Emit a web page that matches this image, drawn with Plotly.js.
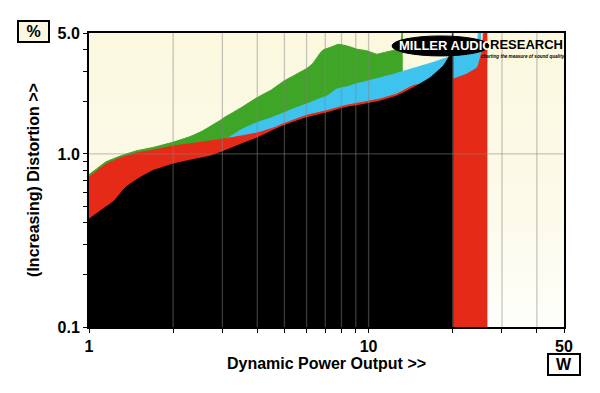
<!DOCTYPE html>
<html><head><meta charset="utf-8">
<script src="https://cdn.plot.ly/plotly-3.0.1.min.js"></script>
<style>
html,body{margin:0;padding:0;background:#fff;}
#wrap{position:relative;width:600px;height:393px;}
#bg{position:absolute;left:89px;top:33px;width:475px;height:294px;background:linear-gradient(to bottom,#fbf8df 0%,#fcfae9 60%,#fefefb 100%);}
#chart{position:absolute;left:0;top:0;width:600px;height:393px;}
</style></head>
<body><div id="wrap"><div id="bg"></div><div id="chart"></div></div>
<script>
// Dynamic power output (W) vs distortion (%)
const greenX = [1, 1.07, 1.15, 1.3, 1.47, 1.69, 2.0, 2.3, 2.55, 2.92, 3.04, 3.5, 4.0, 4.5, 4.98, 5.5, 6.03, 6.3, 6.55, 6.73, 6.9, 7.3, 7.8, 8.4, 9.1, 9.9, 10.7, 11.3, 12.6, 13.1, 13.25];
const greenY = [0.76, 0.825, 0.9, 0.975, 1.04, 1.09, 1.17, 1.26, 1.36, 1.55, 1.62, 1.85, 2.12, 2.35, 2.64, 2.88, 3.13, 3.32, 3.62, 3.85, 4.0, 4.13, 4.3, 4.2, 4.03, 3.94, 3.77, 3.85, 4.03, 4.6, 20];

const cyanX = [1, 2.0, 2.8, 3.13, 3.5, 4.0, 4.5, 4.98, 5.5, 6.03, 6.6, 7.1, 7.7, 8.4, 9.1, 10, 11, 12, 13, 14.9, 17.1, 18.5, 19.8, 21, 23, 24.5, 25.1, 25.3];
const cyanY = [0.6, 0.85, 1.1, 1.23, 1.38, 1.52, 1.62, 1.73, 1.85, 1.95, 2.07, 2.16, 2.37, 2.45, 2.55, 2.65, 2.76, 2.86, 2.97, 3.17, 3.39, 3.54, 3.67, 3.85, 4.1, 4.5, 20, 20];

const redX = [1, 1.07, 1.15, 1.3, 1.47, 1.69, 2.0, 2.44, 3.04, 3.5, 4.06, 4.6, 5.1, 6.0, 7.1, 8.2, 9.4, 11, 12.6, 14.5, 16.6, 18.5, 20.1, 21, 22.5, 24.5, 25.4, 25.7, 26.1, 26.6];
const redY = [0.73, 0.80, 0.872, 0.95, 1.01, 1.05, 1.11, 1.16, 1.22, 1.27, 1.33, 1.42, 1.52, 1.67, 1.78, 1.9, 1.98, 2.08, 2.22, 2.49, 2.55, 2.62, 2.71, 2.78, 2.9, 3.17, 3.87, 4.8, 20, 20];

const blackX = [1, 1.1, 1.23, 1.35, 1.5, 1.69, 1.85, 2.0, 2.3, 2.7, 3.0, 3.5, 4.0, 4.6, 5.1, 6.0, 7.1, 8.2, 9.4, 11.0, 12.6, 14.5, 16.6, 18.5, 19.6, 19.9, 20.1];
const blackY = [0.42, 0.47, 0.535, 0.64, 0.72, 0.80, 0.84, 0.875, 0.92, 0.97, 1.03, 1.14, 1.24, 1.38, 1.48, 1.62, 1.73, 1.85, 1.92, 2.02, 2.16, 2.42, 2.76, 3.23, 3.77, 4.5, 20];

const xMajorTicks = [1, 10, 50];
const xMajorLabels = ['1', '10', '50'];
const xMinorTicks = [2, 3, 4, 5, 6, 7, 8, 9, 20, 30, 40];
const yMajorTicks = [0.1, 1, 5];
const yMajorLabels = ['0.1', '1.0', '5.0'];
const yMinorTicks = [0.2, 0.3, 0.4, 0.5, 0.6, 0.7, 0.8, 0.9, 2, 3, 4];
const xGrid = [2, 3, 4, 5, 6, 7, 8, 9, 10, 20, 30, 40];
const yGrid = [1];

const series = [
  {x: greenX, y: greenY, c: '#3fa526'},
  {x: cyanX, y: cyanY, c: '#3ec3ee'},
  {x: redX, y: redY, c: '#e52a18'},
  {x: blackX, y: blackY, c: '#000000'}
];

const traces = series.map(s => ({
  type: 'scatter', mode: 'lines', x: s.x, y: s.y,
  fill: 'tozeroy', fillcolor: s.c,
  line: {color: s.c, width: 1, shape: 'spline', smoothing: 0.4},
  hoverinfo: 'skip'
}));

const gridCol = 'rgba(130,130,130,0.45)';
const shapes = [];
xGrid.forEach(v => shapes.push({type: 'line', xref: 'x', yref: 'paper', x0: v, x1: v, y0: 0, y1: 1, layer: 'above', line: {color: gridCol, width: 1.3}}));
yGrid.forEach(v => shapes.push({type: 'line', xref: 'paper', yref: 'y', x0: 0, x1: 1, y0: v, y1: v, layer: 'above', line: {color: gridCol, width: 1.3}}));
// logo ellipse
shapes.push({type: 'circle', xref: 'paper', yref: 'paper', x0: 0.638, x1: 0.842, y0: 0.922, y1: 0.99, fillcolor: '#000', line: {color: '#000', width: 1}, layer: 'above'});

const boldFont = {family: 'Arial, "Liberation Sans", sans-serif', size: 16, color: '#000', weight: 'bold'};

const layout = {
  width: 600, height: 393,
  margin: {l: 89, r: 36, t: 33, b: 66},
  paper_bgcolor: 'rgba(0,0,0,0)', plot_bgcolor: 'rgba(0,0,0,0)',
  showlegend: false,
  font: {family: 'Arial, "Liberation Sans", sans-serif', color: '#000'},
  xaxis: {
    type: 'log', range: [0, Math.log10(50)], fixedrange: true,
    tickmode: 'array', tickvals: xMajorTicks, ticktext: xMajorLabels,
    tickfont: boldFont, ticks: 'outside', ticklen: 4, tickwidth: 1, tickcolor: '#000',
    minor: {tickmode: 'array', tickvals: xMinorTicks, ticks: 'outside', ticklen: 4, tickwidth: 1, tickcolor: '#000', showgrid: false},
    showgrid: false, zeroline: false,
    showline: true, linewidth: 2, linecolor: '#000', mirror: true,
    title: {text: 'Dynamic Power Output >>', font: boldFont, standoff: 4}
  },
  yaxis: {
    type: 'log', range: [-1, Math.log10(5)], fixedrange: true,
    tickmode: 'array', tickvals: yMajorTicks, ticktext: yMajorLabels,
    tickfont: boldFont, ticks: 'outside', ticklen: 4, tickwidth: 1, tickcolor: '#000',
    minor: {tickmode: 'array', tickvals: yMinorTicks, ticks: 'outside', ticklen: 4, tickwidth: 1, tickcolor: '#000', showgrid: false},
    showgrid: false, zeroline: false,
    showline: true, linewidth: 2, linecolor: '#000', mirror: true,
    title: {text: '(Increasing) Distortion >>', font: boldFont, standoff: 14}
  },
  shapes: shapes,
  annotations: [
    {xref: 'paper', yref: 'paper', x: -0.1168, y: 1.005, xanchor: 'center', yanchor: 'middle', text: '%', showarrow: false,
     font: boldFont, bgcolor: '#fbf8df', bordercolor: '#000', borderwidth: 2, borderpad: 0, width: 29, height: 19},
    {xref: 'paper', yref: 'paper', x: 1.001, y: -0.126, xanchor: 'center', yanchor: 'middle', text: 'W', showarrow: false,
     font: boldFont, bgcolor: '#fff', bordercolor: '#000', borderwidth: 2, borderpad: 0, width: 30, height: 19},
    {xref: 'paper', yref: 'paper', x: 0.75, y: 0.957, xanchor: 'center', yanchor: 'middle', text: 'MILLER AUDIO', showarrow: false,
     font: {family: 'Arial, "Liberation Sans", sans-serif', size: 13, color: '#fff', weight: 'bold'}},
    {xref: 'paper', yref: 'paper', x: 0.922, y: 0.962, xanchor: 'center', yanchor: 'middle', text: 'RESEARCH', showarrow: false,
     font: {family: 'Arial, "Liberation Sans", sans-serif', size: 13, color: '#000', weight: 'bold'}},
    {xref: 'paper', yref: 'paper', x: 0.913, y: 0.921, xanchor: 'center', yanchor: 'middle', text: 'charting the measure of sound quality', showarrow: false,
     font: {family: 'Arial, "Liberation Sans", sans-serif', size: 4.6, color: '#000', weight: 'bold', style: 'italic'}}
  ]
};

Plotly.newPlot('chart', traces, layout, {displayModeBar: false, staticPlot: true});
</script>
</body></html>
